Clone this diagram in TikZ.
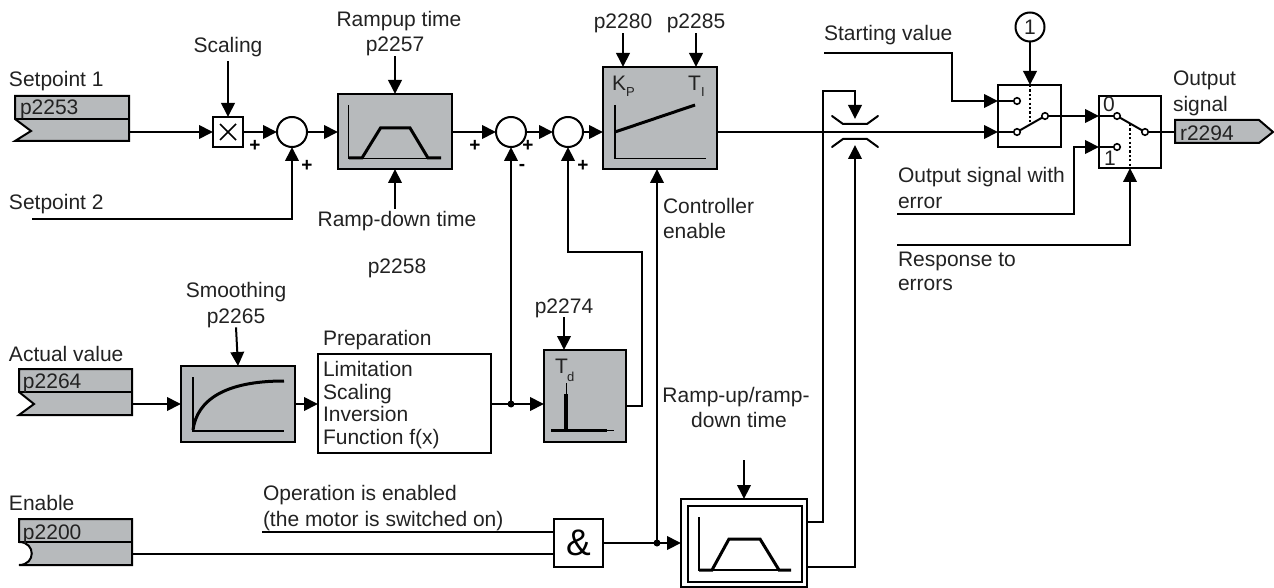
\documentclass[tikz,border=0pt]{standalone}
\usepackage{fontspec}
\setmainfont{Liberation Sans}
\usetikzlibrary{arrows.meta,calc}
\definecolor{blockgray}{HTML}{B7BABC}
\definecolor{ink}{HTML}{222222}
\tikzset{
  wire/.style={line width=2pt,draw=black},
  arr/.style={wire,-{Triangle[length=14pt,width=13.5pt]}},
  lbl/.style={inner sep=0pt,outer sep=0pt,text=ink,font=\fontsize{21}{25.5}\selectfont},
  lblc/.style={lbl,anchor=base},
  lbll/.style={lbl,anchor=base west},
  smallsub/.style={lbl,anchor=base west,font=\fontsize{13}{14}\selectfont},
  sign/.style={inner sep=0pt,outer sep=0pt,font=\bfseries\fontsize{19}{20}\selectfont,text=black},
  block/.style={draw=black,line width=2pt,fill=blockgray,inner sep=0pt,outer sep=0pt},
  plain/.style={draw=black,line width=2pt,fill=white,inner sep=0pt,outer sep=0pt},
  sumc/.style={circle,draw=black,line width=2pt,fill=white,inner sep=0pt,outer sep=0pt,minimum size=30pt},
  contact/.style={circle,draw=black,line width=1.6pt,fill=white,inner sep=0pt,outer sep=0pt,minimum size=6.5pt},
  junction/.style={circle,fill=black,inner sep=0pt,outer sep=0pt,minimum size=7pt},
  axis/.style={line width=1.6pt,draw=black},
  curveline/.style={line width=3pt,draw=black},
  ctrl/.style={line width=2pt,dash pattern=on 2.2pt off 2.2pt,draw=black},
  tag/.style={draw=black,line width=2pt,fill=blockgray},
}
\newcommand{\bx}[6]{%
  \pgfmathsetmacro{\bxw}{#4-#2}\pgfmathsetmacro{\bxh}{#5-#3}%
  \pgfmathsetmacro{\bxx}{(#4+#2)/2}\pgfmathsetmacro{\bxy}{(#5+#3)/2}%
  \node[#6,minimum width=\bxw pt,minimum height=\bxh pt] (#1) at (\bxx,\bxy) {};}
\begin{document}
\begin{tikzpicture}[x=1pt,y=-1pt]
\useasboundingbox (0,0) rectangle (1274,588);

% input tags
\draw[tag] (15,96) -- (129,96) -- (129,141) -- (15,141) -- (31,131) -- (15,119) -- cycle;
\draw[wire] (15,119) -- (129,119);
\node[lbll] (tsp1) at (9,87) {Setpoint 1};
\node[lbl,anchor=base west] (p2253) at (20,115) {p2253};
\coordinate (sp1out) at (129,132);

\draw[tag] (19,369) -- (132,369) -- (132,415) -- (19,415) -- (34,404) -- (19,392) -- cycle;
\draw[wire] (19,392) -- (132,392);
\node[lbll] (tact) at (9,361) {Actual value};
\node[lbl,anchor=base west] (p2264) at (23,388) {p2264};
\coordinate (actout) at (132,404);

\draw[tag] (19,519) -- (132,519) -- (132,565) -- (19,565) .. controls (36,565) and (36,542) .. (19,542) -- cycle;
\draw[wire] (19,542) -- (132,542);
\node[lbll] (tena) at (9,510) {Enable};
\node[lbl,anchor=base west] (p2200) at (23,539) {p2200};
\coordinate (enout) at (132,554);

% output tag
\draw[tag] (1175,120) -- (1259,120) -- (1273,132) -- (1259,143) -- (1175,143) -- cycle;
\node[lbl,anchor=base west] (r2294) at (1180,141) {r2294};
\coordinate (outtag) at (1175,132);
\node[lbl,anchor=base west] (toutsig) at (1173,86) {Output};
\node[lbl,anchor=base west] (toutsigb) at (1173,112) {signal};

% blocks
\bx{xbox}{213}{117}{243}{147}{plain}
\draw[line width=1.6pt] (220,124) -- (236,140) (236,124) -- (220,140);
\node[sumc] (c1) at (292,132) {};
\node[sumc] (c2) at (511,132) {};
\node[sumc] (c3) at (568,132) {};
\bx{ramp}{338}{94}{452}{169}{block}
\bx{pid}{603}{67}{717}{169}{block}
\bx{smooth}{181}{366}{295}{442}{block}
\bx{prep}{318}{354}{491}{453}{plain}
\bx{td}{544}{350}{626}{442}{block}
\bx{and}{554}{519}{603}{567}{plain}
\bx{rfo}{681}{499}{807}{587}{plain}
\bx{rfi}{688}{506}{802}{582}{plain}
\bx{sw1}{998}{85}{1061}{147}{plain}
\bx{sw2}{1099}{96}{1161}{168}{plain}
\node[circle,draw=black,line width=2pt,fill=white,inner sep=0pt,outer sep=0pt,minimum size=29pt,text=ink,font=\fontsize{21}{25}\selectfont] (one) at (1030,27) {1};

% block contents
\draw[axis] (348.5,105) -- (348.5,158.5) -- (441,158.5);
\draw[curveline] (349,158) -- (362,158) -- (380.5,128) -- (410,128) -- (428,158) -- (441,158);

\draw[axis] (615,105) -- (615,158.5) -- (706,158.5);
\draw[curveline] (615,132) -- (695,105);
\node[lbl,anchor=base west] (kp) at (612,91) {K};
\node[smallsub] (kps) at (626,97) {P};
\node[lbl,anchor=base west] (ti) at (688,91) {T};
\node[smallsub] (tis) at (701,97) {I};

\draw[axis] (193,377) -- (193,431) -- (284,431);
\draw[curveline] (193,430) .. controls (197,400) and (225,381) .. (284,381);

\node[lbl,anchor=base west] (tdt) at (555,373) {T};
\node[smallsub] (tds) at (567,381) {d};
\draw[line width=1pt] (566,383) -- (566,394);
\draw[line width=3.6pt] (566,394) -- (566,431);
\draw[line width=3.6pt] (551,430.5) -- (607,430.5);
\draw[line width=1pt] (607,430.5) -- (614,430.5);

\draw[axis] (699,517) -- (699,570) -- (791,570);
\draw[curveline] (699,570) -- (712,570) -- (729,539) -- (760,539) -- (779,570) -- (791,570);

\node[lbl,anchor=base west,align=left,font=\fontsize{21}{22.5}\selectfont] (preptext) at (323,444) {Limitation\\Scaling\\Inversion\\Function f(x)};
\node[lbl,anchor=center,font=\fontsize{37}{37}\selectfont,text=black] (amp) at (578.5,543) {\&};

% labels
\node[lblc] (tscal) at (228,53) {Scaling};
\node[lblc] (trup) at (399,27) {Rampup time};
\node[lblc] (p2257) at (395,52) {p2257};
\node[lblc] (trdn) at (397,226) {Ramp-down time};
\node[lblc] (p2258) at (397,273) {p2258};
\node[lbll] (tsp2) at (9,210) {Setpoint 2};
\node[lblc] (tsmo) at (236,297) {Smoothing};
\node[lblc] (p2265) at (236,323) {p2265};
\node[lbll] (tpre) at (323,345) {Preparation};
\node[lblc] (p2274) at (564,313) {p2274};
\node[lblc] (p2280) at (623,29) {p2280};
\node[lblc] (p2285) at (696,29) {p2285};
\node[lbll] (tce) at (663,214) {Controller};
\node[lbll] (tceb) at (663,238) {enable};
\node[lblc] (truna) at (736,402) {Ramp-up/ramp-};
\node[lblc] (trunb) at (739,427) {down time};
\node[lbll] (tsv) at (824,41) {Starting value};
\node[lbll] (tosa) at (898,183) {Output signal with};
\node[lbll] (tosb) at (898,208) {error};
\node[lbll] (trea) at (898,266) {Response to};
\node[lbll] (treb) at (898,290) {errors};
\node[lbll] (topa) at (263,500) {Operation is enabled};
\node[lbll] (topb) at (263,526) {(the motor is switched on)};
\node[lbl,anchor=base west] (zero) at (1103,112) {0};
\node[lbl,anchor=base west] (onetxt) at (1104,166) {1};

% signs
\node[sign] (s1) at (255,146) {+};
\node[sign] (s2) at (307,166) {+};
\node[sign] (s3) at (475,146) {+};
\node[sign] (s4) at (528,146) {+};
\node[sign] (s5) at (522,167) {-};
\node[sign] (s6) at (583,166) {+};

% free ends
\coordinate (scaltop) at (228,61);
\coordinate (sp2a) at (32,219);
\coordinate (rdnst) at (395,209);
\coordinate (opst) at (262,532);
\coordinate (rtop) at (744,460);
\coordinate (svst) at (824,53);
\coordinate (osst) at (897,214);
\coordinate (rest) at (897,245);
\coordinate (nipup) at (855,119);
\coordinate (niplow) at (855,145);
\coordinate (swa) at (998,101);
\coordinate (swb) at (998,132);
\coordinate (swc) at (1099,116);
\coordinate (swd) at (1099,147);
\coordinate (lvl) at (0,404);

% connectors: top row
\draw[arr] (sp1out) -- (xbox.west);
\draw[arr] (scaltop) -- (xbox.north);
\draw[arr] (xbox.east) -- (c1.west);
\draw[arr] (sp2a) -| (c1.south);
\draw[arr] (c1.east) -- (c1.east -| ramp.west);
\draw[arr] (p2257.south) -- (ramp.north);
\draw[arr] (rdnst) -- (ramp.south);
\draw[arr] (c2.west -| ramp.east) -- (c2.west);
\draw[arr] (c2.east) -- (c3.west);
\draw[arr] (c3.east) -- (c3.east -| pid.west);
\draw[arr] (p2280.south) -- (p2280.south |- pid.north);
\draw[arr] (p2285.south) -- (p2285.south |- pid.north);

% middle row
\draw[arr] (actout) -- (actout -| smooth.west);
\draw[arr] (p2265.south) -- (smooth.north);
\draw[arr] (lvl -| smooth.east) -- (lvl -| prep.west);
\draw[arr] (lvl -| prep.east) -- (lvl -| td.west);
\draw[arr] (p2274.south) -- (p2274.south |- td.north);
\node[junction] (j1) at (511,404) {};
\draw[arr] (j1) -- (c2.south);
\coordinate (tdout) at (626,406);
\draw[arr] (tdout) -- (642,406) -- (642,252) -- (568,252) -- (c3.south);

% bottom row
\draw[wire] (enout) -- (and.west |- enout);
\draw[wire] (opst) -- (and.west |- opst);
\draw[arr] (and.east) -- (rfo.west);
\node[junction] (j2) at (657,543) {};
\draw[arr] (j2) -- (j2 |- pid.south);
\draw[arr] (rtop) -- (rtop |- rfo.north);

% clamp
\coordinate (rfa) at (807,522);
\coordinate (rfb) at (807,567);
\draw[arr] (rfa) -- (822.5,522) -- (822.5,91) -- (855,91) -- (nipup);
\draw[arr] (rfb) -- (855,567) -- (niplow);
\draw[wire,line cap=round] (832,116) -- (843,124) -- (867,124) -- (878,116);
\draw[wire,line cap=round] (832,147) -- (843,139) -- (867,139) -- (878,147);

% switches
\draw[arr] (swb -| pid.east) -- (swb);
\draw[arr] (svst) -- (952,53) -- (952,101) -- (swa);
\draw[arr] (one.south) -- (one.south |- sw1.north);
\draw[ctrl] (1030,85) -- (1030,122);
\node[contact] (k1) at (1017,101) {};
\node[contact] (k2) at (1017,132) {};
\node[contact] (k3) at (1045,116) {};
\draw[wire] (swa) -- (k1);
\draw[wire] (swb) -- (k2);
\draw[wire] (k2) -- (k3);
\draw[arr] (k3) -- (swc);

\draw[ctrl] (1130,124) -- (1130,168);
\node[contact] (k4) at (1117,116) {};
\node[contact] (k5) at (1117,147) {};
\node[contact] (k6) at (1145,132) {};
\draw[wire] (swc) -- (k4);
\draw[wire] (swd) -- (k5);
\draw[wire] (k4) -- (k6);
\draw[wire] (k6) -- (outtag);
\draw[arr] (osst) -- (1074,214) -- (1074,147) -- (swd);
\draw[arr] (rest) -- (1130,245) -- (1130,168);
\end{tikzpicture}
\end{document}
